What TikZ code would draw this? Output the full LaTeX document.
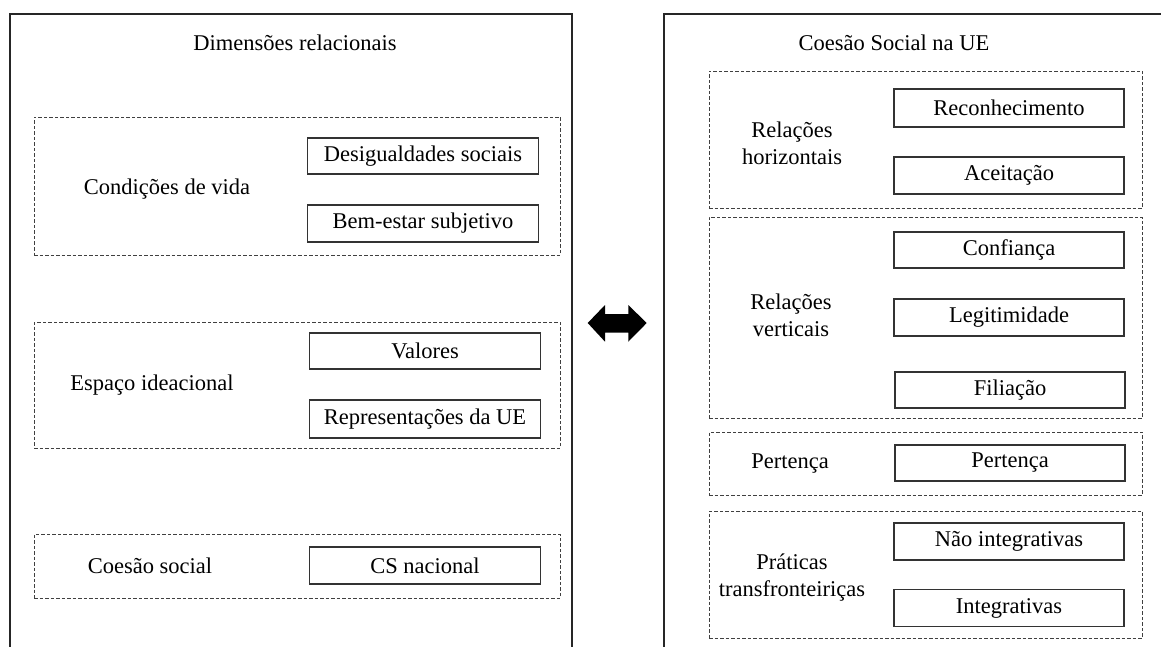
\documentclass[tikz,border=0pt]{standalone}
\usepackage{fontspec}
\setmainfont{Liberation Serif}
\begin{document}
\begin{tikzpicture}[x=1pt,y=-1pt,
  every node/.style={font=\fontsize{22.5}{27}\selectfont},
  outerline/.style={line width=1.8pt, draw=black!85},
  itembox/.style={draw=black!80, line width=1.2pt, minimum width=231pt, inner sep=0pt, fill=white},
  groupbox/.style={draw=black!75, line width=0.8pt, dash pattern=on 3.5pt off 2pt, minimum width=526pt, inner sep=0pt},
  rgroupbox/.style={groupbox, minimum width=433pt},
  lbl/.style={align=center, inner sep=0pt}]
\useasboundingbox (0,0) rectangle (1161,647);
% outer panels
\draw[outerline] (10,647) -- (10,14) -- (572,14) -- (572,647);
\draw[outerline] (664,647) -- (664,14) -- (1161,14);
% left panel
\node[lbl] (tl) at (295,43) {Dimensões relacionais};
\node[groupbox, minimum height=138pt] (d1) at (297,186) {};
\node[lbl] (l1) at (167,189) {Condições de vida};
\node[itembox, minimum height=36pt] (b11) at (423,156) {Desigualdades sociais};
\node[itembox, minimum height=37pt] (b12) at (423,223.5) {Bem-estar subjetivo};
\node[groupbox, minimum height=126pt] (d2) at (297,385) {};
\node[lbl] (l2) at (152,385) {Espaço ideacional};
\node[itembox, minimum height=36pt] (b21) at (425,351) {Valores};
\node[itembox, minimum height=38pt] (b22) at (425,419) {Representações da UE};
\node[groupbox, minimum height=64pt] (d3) at (297,566) {};
\node[lbl] (l3) at (150,566) {Coesão social};
\node[itembox, minimum height=37pt] (b31) at (425,565.5) {CS nacional};
% arrow
\fill[black] (587.7,323) -- (605,305) -- (605,314) -- (628.3,314) -- (628.3,305) -- (646.7,323)
  -- (628.3,341.7) -- (628.3,332.7) -- (605,332.7) -- (605,341.7) -- cycle;
% right panel
\node[lbl] (tr) at (894,43) {Coesão Social na UE};
\node[rgroupbox, minimum height=137pt] (r1) at (925.5,139.5) {};
\node[lbl] (m1) at (792,143) {Relações\\horizontais};
\node[itembox, minimum width=230pt, minimum height=38pt] (c11) at (1009,108) {Reconhecimento};
\node[itembox, minimum width=230pt, minimum height=37pt] (c12) at (1009,175.5) {Aceitação};
\node[rgroupbox, minimum height=201pt] (r2) at (925.5,317.5) {};
\node[lbl] (m2) at (791,315) {Relações\\verticais};
\node[itembox, minimum width=230pt, minimum height=36pt] (c21) at (1009,250) {Confiança};
\node[itembox, minimum width=230pt, minimum height=37pt] (c22) at (1009,317.5) {Legitimidade};
\node[itembox, minimum width=230pt, minimum height=36pt] (c23) at (1010,390) {Filiação};
\node[rgroupbox, minimum height=63pt] (r3) at (925.5,463.5) {};
\node[lbl] (m3) at (790,464) {Pertença};
\node[itembox, minimum width=230pt, minimum height=36pt] (c31) at (1010,463) {Pertença};
\node[rgroupbox, minimum height=127pt] (r4) at (925.5,574.5) {};
\node[lbl] (m4) at (792,578) {Práticas\\transfronteiriças};
\node[itembox, minimum width=230pt, minimum height=37pt] (c41) at (1009,541.5) {Não integrativas};
\node[itembox, minimum width=230pt, minimum height=37pt] (c42) at (1009,608) {Integrativas};
\end{tikzpicture}
\end{document}
